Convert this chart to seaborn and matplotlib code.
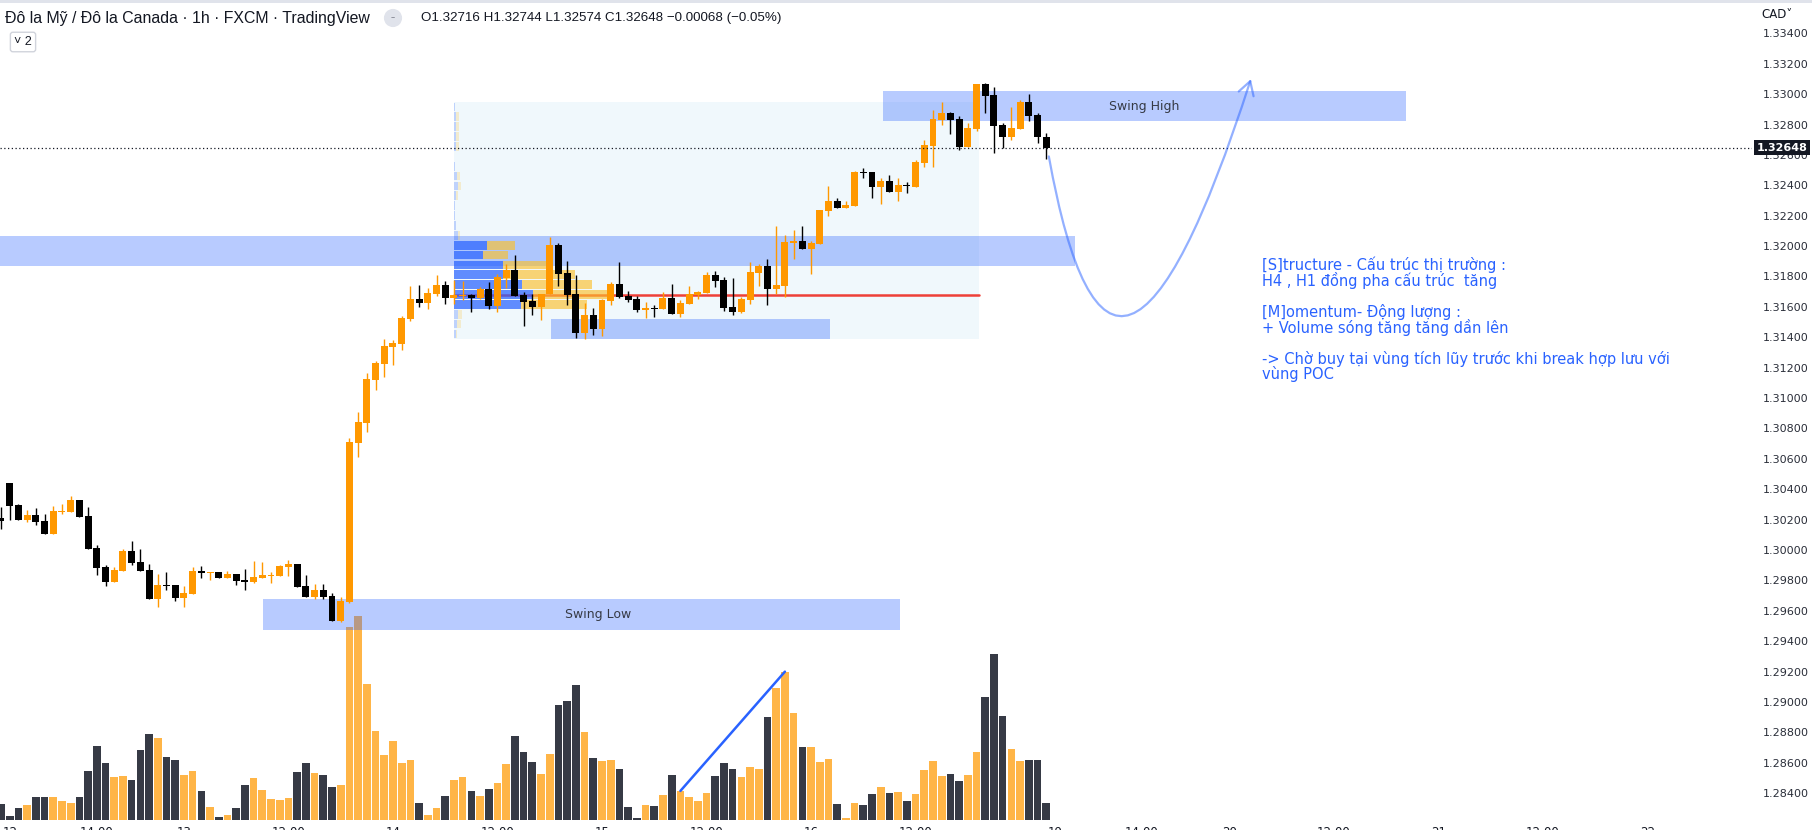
import numpy as np
import pandas as pd
import matplotlib
matplotlib.use("Agg")
import matplotlib.pyplot as plt
import seaborn as sns
from matplotlib.path import Path
from matplotlib.patches import FancyArrowPatch, Rectangle
from matplotlib.colors import to_rgba

# ---------------- data (USD/CAD 1h, FXCM) ----------------
opens = [1.30211, 1.30441, 1.30296, 1.30198, 1.30231, 1.30191, 1.30105, 1.30250, 1.30250, 1.30329,
         1.30224, 1.30013, 1.29888, 1.29790, 1.29862, 1.29993, 1.29921, 1.29869, 1.29678, 1.29770,
         1.29770, 1.29684, 1.29711, 1.29862, 1.29849, 1.29856, 1.29816, 1.29842, 1.29803, 1.29790,
         1.29816, 1.29831, 1.29829, 1.29888, 1.29908, 1.29763, 1.29691, 1.29737, 1.29697, 1.29533,
         1.29659, 1.30704, 1.30836, 1.31119, 1.31224, 1.31336, 1.31356, 1.31520, 1.31652, 1.31625,
         1.31685, 1.31744, 1.31658, 1.31671, 1.31678, 1.31658, 1.31717, 1.31606, 1.31790, 1.31843,
         1.31678, 1.31639, 1.31599, 1.31685, 1.32007, 1.31823, 1.31685, 1.31428, 1.31547, 1.31455,
         1.31639, 1.31750, 1.31671, 1.31652, 1.31579, 1.31594, 1.31586, 1.31658, 1.31553, 1.31619,
         1.31678, 1.31691, 1.31810, 1.31777, 1.31599, 1.31566, 1.31645, 1.31823, 1.31869, 1.31717,
         1.31737, 1.32020, 1.32033, 1.31981, 1.32014, 1.32232, 1.32298, 1.32251, 1.32264, 1.32487,
         1.32487, 1.32389, 1.32428, 1.32356, 1.32402, 1.32389, 1.32549, 1.32661, 1.32830, 1.32876,
         1.32836, 1.32654, 1.32770, 1.33066, 1.32994, 1.32797, 1.32720, 1.32770, 1.32948, 1.32862,
         1.32716]
highs = [1.30282, 1.30441, 1.30303, 1.30264, 1.30277, 1.30237, 1.30290, 1.30303, 1.30356, 1.30329,
         1.30283, 1.30033, 1.29902, 1.29888, 1.30007, 1.30059, 1.30007, 1.29908, 1.29842, 1.29855,
         1.29770, 1.29763, 1.29888, 1.29895, 1.29856, 1.29856, 1.29862, 1.29842, 1.29875, 1.29928,
         1.29921, 1.29855, 1.29901, 1.29934, 1.29908, 1.29836, 1.29776, 1.29776, 1.29717, 1.29691,
         1.30737, 1.30908, 1.31165, 1.31244, 1.31389, 1.31382, 1.31540, 1.31737, 1.31744, 1.31724,
         1.31810, 1.31770, 1.31777, 1.31770, 1.31685, 1.31731, 1.31764, 1.31816, 1.31882, 1.31941,
         1.31698, 1.31685, 1.31685, 1.32060, 1.32020, 1.31902, 1.31810, 1.31626, 1.31593, 1.31652,
         1.31764, 1.31895, 1.31704, 1.31671, 1.31632, 1.31612, 1.31698, 1.31750, 1.31645, 1.31737,
         1.31704, 1.31829, 1.31836, 1.31797, 1.31790, 1.31665, 1.31895, 1.31882, 1.31915, 1.32133,
         1.32073, 1.32106, 1.32133, 1.32033, 1.32238, 1.32396, 1.32317, 1.32298, 1.32494, 1.32514,
         1.32487, 1.32448, 1.32468, 1.32448, 1.32422, 1.32567, 1.32698, 1.32895, 1.32948, 1.32882,
         1.32856, 1.32810, 1.33066, 1.33071, 1.33049, 1.32810, 1.32915, 1.32961, 1.33001, 1.32876,
         1.32744]
lows = [1.30139, 1.30198, 1.30198, 1.30187, 1.30165, 1.30105, 1.30105, 1.30239, 1.30250, 1.30218,
        1.30007, 1.29836, 1.29763, 1.29790, 1.29862, 1.29901, 1.29862, 1.29678, 1.29625, 1.29737,
        1.29665, 1.29625, 1.29711, 1.29816, 1.29803, 1.29816, 1.29816, 1.29770, 1.29737, 1.29783,
        1.29816, 1.29783, 1.29829, 1.29829, 1.29757, 1.29691, 1.29678, 1.29678, 1.29533, 1.29526,
        1.29652, 1.30612, 1.30777, 1.31053, 1.31138, 1.31218, 1.31316, 1.31507, 1.31599, 1.31586,
        1.31671, 1.31619, 1.31619, 1.31645, 1.31566, 1.31652, 1.31586, 1.31566, 1.31724, 1.31671,
        1.31474, 1.31547, 1.31514, 1.31685, 1.31737, 1.31612, 1.31395, 1.31389, 1.31415, 1.31408,
        1.31612, 1.31658, 1.31632, 1.31566, 1.31527, 1.31533, 1.31586, 1.31553, 1.31533, 1.31619,
        1.31652, 1.31691, 1.31731, 1.31573, 1.31547, 1.31560, 1.31619, 1.31737, 1.31612, 1.31685,
        1.31665, 1.31915, 1.31981, 1.31817, 1.32014, 1.32198, 1.32251, 1.32251, 1.32264, 1.32448,
        1.32317, 1.32277, 1.32356, 1.32298, 1.32349, 1.32389, 1.32522, 1.32522, 1.32797, 1.32737,
        1.32632, 1.32654, 1.32757, 1.32878, 1.32614, 1.32643, 1.32698, 1.32770, 1.32825, 1.32681,
        1.32574]
closes = [1.30193, 1.30292, 1.30198, 1.30231, 1.30187, 1.30105, 1.30257, 1.30257, 1.30329, 1.30218,
          1.30007, 1.29882, 1.29790, 1.29869, 1.29993, 1.29914, 1.29862, 1.29678, 1.29770, 1.29765,
          1.29684, 1.29717, 1.29862, 1.29849, 1.29856, 1.29816, 1.29842, 1.29796, 1.29790, 1.29822,
          1.29836, 1.29836, 1.29895, 1.29908, 1.29757, 1.29691, 1.29737, 1.29691, 1.29533, 1.29665,
          1.30711, 1.30843, 1.31125, 1.31231, 1.31343, 1.31362, 1.31527, 1.31652, 1.31625, 1.31691,
          1.31744, 1.31658, 1.31678, 1.31678, 1.31658, 1.31717, 1.31606, 1.31797, 1.31843, 1.31671,
          1.31632, 1.31599, 1.31685, 1.32007, 1.31817, 1.31678, 1.31428, 1.31547, 1.31455, 1.31645,
          1.31750, 1.31665, 1.31645, 1.31579, 1.31593, 1.31588, 1.31658, 1.31553, 1.31625, 1.31685,
          1.31698, 1.31810, 1.31770, 1.31593, 1.31566, 1.31652, 1.31829, 1.31869, 1.31717, 1.31744,
          1.32027, 1.32033, 1.31981, 1.32020, 1.32238, 1.32298, 1.32251, 1.32271, 1.32487, 1.32481,
          1.32389, 1.32428, 1.32356, 1.32402, 1.32395, 1.32553, 1.32665, 1.32836, 1.32876, 1.32830,
          1.32654, 1.32777, 1.33066, 1.32989, 1.32792, 1.32720, 1.32777, 1.32948, 1.32858, 1.32716,
          1.32648]
volumes = [16, 4, 12, 15, 23, 23, 23, 19, 17, 23,
           49, 74, 57, 43, 44, 40, 70, 86, 82, 63,
           60, 45, 49, 29, 13, 3, 5, 12, 35, 42,
           30, 21, 20, 22, 48, 57, 47, 45, 33, 35,
           193, 204, 136, 89, 65, 79, 57, 60, 17, 5,
           12, 24, 40, 43, 29, 24, 31, 37, 56, 84,
           68, 58, 46, 66, 115, 119, 135, 88, 62, 59,
           60, 51, 13, 2, 15, 14, 25, 45, 29, 23,
           19, 27, 44, 57, 51, 43, 53, 51, 103, 132,
           148, 107, 73, 73, 58, 61, 16, 2, 17, 15,
           26, 33, 27, 28, 19, 26, 50, 59, 44, 46,
           39, 45, 68, 123, 166, 104, 71, 59, 60, 60,
           17]

time_tick_index = [1, 11, 21, 33, 45, 57, 69, 81, 93, 105, 121, 131, 141, 153, 165, 177, 189]
time_tick_labels = ["12", "14:00", "13", "12:00", "14", "12:00", "15", "12:00", "16", "12:00",
                    "19", "14:00", "20", "12:00", "21", "12:00", "22"]
price_ticks = [1.284, 1.286, 1.288, 1.290, 1.292, 1.294, 1.296, 1.298, 1.300, 1.302, 1.304,
               1.306, 1.308, 1.310, 1.312, 1.314, 1.316, 1.318, 1.320, 1.322, 1.324, 1.326,
               1.328, 1.330, 1.332, 1.334]
last_price = 1.32648

# fixed-range volume profile (rows bottom -> top)
profile_low, profile_high = 1.31389, 1.32948
profile_up = [2, 3, 4, 67, 79, 68, 49, 49, 29, 33, 4, 2, 1, 1, 2, 4, 3, 1, 0.5, 2, 2, 2, 2, 1]
profile_down = [1, 4, 4, 66, 75, 70, 72, 44, 25, 28, 2, 0, 0, 0, 2, 3, 3, 0, 0, 3, 3, 3, 3, 0]
value_area_rows = [3, 4, 5, 6, 7, 8, 9]
poc_price = 1.31678
profile_start, profile_end = 52, 112.25

# drawn zones: (x0, x1, price_low, price_high)
zone_swing_high = (101.3, 161.3, 1.32823, 1.33020)
zone_upper = (-2, 123.3, 1.31869, 1.32066)
zone_small = (63.1, 95.2, 1.31389, 1.31520)
zone_swing_low = (30.1, 103.2, 1.29474, 1.29678)

# projected path (bar index, price): start, control, end
proj_path = [(120.3, 1.32590), (127.6, 1.30264), (143.5, 1.33099)]
# volume trend line between bars
vol_line_bars = [78, 90]

note_lines = [
    "[S]tructure - Cấu trúc thị trường :",
    "H4 , H1 đồng pha cấu trúc  tăng",
    "",
    "[M]omentum- Động lượng :",
    "+ Volume sóng tăng tăng dần lên",
    "",
    "-> Chờ buy tại vùng tích lũy trước khi break hợp lưu với",
    "vùng POC",
]

# ---------------- style ----------------
sns.set_style("white")
plt.rcParams["font.family"] = ["DejaVu Sans"]

W, H = 1812, 830
fig = plt.figure(figsize=(W / 100, H / 100), dpi=100)
fig.patch.set_facecolor("white")

ax = fig.add_axes([0, 10 / H, 1752 / W, 818 / H])
vax = ax.twinx()

n = len(opens)
idx = np.arange(n)
o = np.array(opens); h = np.array(highs); l = np.array(lows); c = np.array(closes)
up = c >= o
ORANGE, BLACK = "#FF9800", "#000000"
BLUE = "#2962FF"

# volume via seaborn
df = pd.DataFrame({"bar": idx, "vol": volumes, "dir": np.where(up, "up", "down")})
sns.barplot(data=df, x="bar", y="vol", hue="dir", palette={"up": "#FFB547", "down": "#363A45"},
            native_scale=True, dodge=False, width=0.88, saturation=1, legend=False,
            errorbar=None, linewidth=0, ax=vax)
vax.plot(vol_line_bars, [volumes[vol_line_bars[0]], volumes[vol_line_bars[1]]],
         color=BLUE, lw=1.8, solid_capstyle="round")
vax.set_ylim(0, max(volumes) / 0.25)
vax.set_yticks([])
vax.set_ylabel("")
vax.set_xlabel("")
for s in vax.spines.values():
    s.set_visible(False)

ax.set_zorder(vax.get_zorder() + 1)
ax.patch.set_visible(False)

# range background
x0, x1 = profile_start, profile_end
ax.add_patch(Rectangle((x0, profile_low), x1 - x0, profile_high - profile_low,
                       facecolor="#F0F8FC", edgecolor="none", zorder=1))
# POC line
ax.plot([x0, x1], [poc_price, poc_price], color="#EE4038", lw=1.8, zorder=3.2)

# zones
for (a, b, lo, hi) in [zone_swing_high, zone_upper, zone_small, zone_swing_low]:
    ax.add_patch(Rectangle((a, lo), b - a, hi - lo, facecolor=BLUE, alpha=0.33,
                           edgecolor="none", zorder=3))

# profile rows (drawn above the zones)
rows = len(profile_up)
row_h = (profile_high - profile_low) / rows
centers = profile_low + row_h * (np.arange(rows) + 0.5)
pu = np.array(profile_up, float); pd_ = np.array(profile_down, float)
scale = 17.7 / (pu + pd_).max()
in_va = np.isin(np.arange(rows), value_area_rows)
up_cols = [to_rgba(BLUE, 0.72 if v else 0.25) for v in in_va]
dn_cols = [to_rgba("#FBC02D", 0.65 if v else 0.22) for v in in_va]
ax.barh(centers, pu * scale, left=x0, height=row_h * 0.88, color=up_cols, lw=0, zorder=3.5)
ax.barh(centers, pd_ * scale, left=x0 + pu * scale, height=row_h * 0.88, color=dn_cols, lw=0, zorder=3.5)

ax.text((zone_swing_high[0] + zone_swing_high[1]) / 2, (zone_swing_high[2] + zone_swing_high[3]) / 2,
        "Swing High", ha="center", va="center", fontsize=9, color="#363A45", zorder=8)
ax.text(68.5, (zone_swing_low[2] + zone_swing_low[3]) / 2,
        "Swing Low", ha="center", va="center", fontsize=9, color="#363A45", zorder=8)

# candles
col = np.where(up, ORANGE, BLACK)
ax.vlines(idx, l, h, colors=col, lw=1.0, zorder=4)
min_h = 0.00007
body = np.maximum(np.abs(c - o), min_h)
ax.bar(idx, body, bottom=np.minimum(o, c), width=0.8, color=col, lw=0, zorder=5)

# current price line
ax.axhline(last_price, color="#131722", lw=0.9, ls=(0, (1, 2)), zorder=6)

# projected curved arrow
path = Path(list(proj_path), [Path.MOVETO, Path.CURVE3, Path.CURVE3])
arrow = FancyArrowPatch(path=path, arrowstyle="->,head_length=0.6,head_width=0.35",
                        mutation_scale=16, color=to_rgba(BLUE, 0.5), lw=1.6, zorder=7)
ax.add_patch(arrow)

# axes limits / ticks
ax.set_xlim(-0.115, 201.03)
ax.set_ylim(1.28224, 1.33606)
for s in ax.spines.values():
    s.set_visible(False)
ax.yaxis.tick_right()
ax.set_yticks(price_ticks)
ax.set_yticklabels([f"{p:.5f}" for p in price_ticks])
ax.tick_params(axis="y", length=0, pad=7.5, labelsize=8, labelcolor="#2A2E39")
ax.set_xticks(time_tick_index)
ax.set_xticklabels(time_tick_labels)
ax.tick_params(axis="x", length=0, pad=4.5, labelsize=8.5, labelcolor="#131722")
vax.xaxis.set_visible(False)
ax.grid(False)

# last price label
ax.annotate(f"{last_price:.5f}", xy=(1, last_price), xycoords=("axes fraction", "data"),
            xytext=(3.5, 0), textcoords="offset points", ha="left", va="center",
            color="white", fontsize=8, fontweight="bold", annotation_clip=False, zorder=20,
            bbox=dict(boxstyle="square,pad=0.22", fc="#131722", ec="none"))

# notes text, one line at a time
line_step = 15.7
for k, line in enumerate(note_lines):
    if line:
        fig.text(1262 / W, 1 - (264.5 + k * line_step) / H, line, ha="left", va="center",
                 fontsize=10.5, color=BLUE)

# header
fig.add_artist(Rectangle((0, 1 - 3 / H), 1, 3 / H, transform=fig.transFigure,
                         facecolor="#E0E3EB", edgecolor="none"))
fig.text(5 / W, 1 - 18 / H, "Đô la Mỹ / Đô la Canada · 1h · FXCM · TradingView",
         ha="left", va="center", fontsize=11.4, family=["Liberation Sans", "DejaVu Sans"],
         color="#131722")
fig.text(393 / W, 1 - 18 / H, "–", ha="center", va="center", fontsize=6, color="#787B86",
         bbox=dict(boxstyle="circle,pad=0.55", fc="#E0E3EB", ec="none"))
ohlc = f"O{opens[-1]:.5f} H{highs[-1]:.5f} L{lows[-1]:.5f} C{closes[-1]:.5f} " \
       f"−{abs(closes[-1]-opens[-1]):.5f} (−{abs(closes[-1]-opens[-1])/opens[-1]*100:.2f}%)"
fig.text(421 / W, 1 - 18 / H, ohlc, ha="left", va="center", fontsize=9.6,
         family=["Liberation Sans", "DejaVu Sans"], color="#131722")
fig.text(23 / W, 1 - 42 / H, "˅ 2", ha="center", va="center", fontsize=9,
         family=["Liberation Sans", "DejaVu Sans"], color="#131722",
         bbox=dict(boxstyle="round,pad=0.3,rounding_size=0.2", fc="white", ec="#D1D4DC", lw=1))
fig.text(1761 / W, 1 - 14 / H, "CAD˅", ha="left", va="center", fontsize=8.5,
         color="#131722")

fig.savefig("out.png", dpi=100, facecolor="white")
